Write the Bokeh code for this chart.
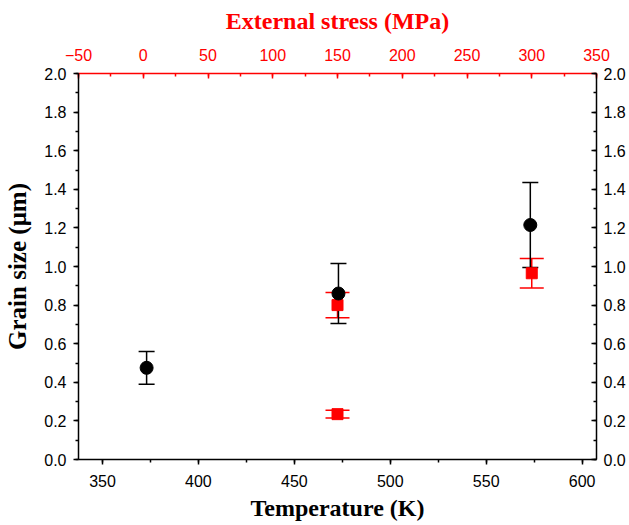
from bokeh.plotting import figure
from bokeh.models import (Range1d, LinearAxis, SingleIntervalTicker, Whisker, TeeHead,
                          ColumnDataSource, NumeralTickFormatter)
from bokeh.embed import file_html
from bokeh.resources import INLINE

# ---- data ----
temp_K = [373, 473, 573]
size_temp = [0.475, 0.86, 1.215]
err_temp = [0.085, 0.155, 0.22]

stress_MPa = [150, 150, 300]
size_stress = [0.80, 0.235, 0.965]
err_stress = [0.065, 0.02, 0.077]

x_label = "Temperature (K)"
top_label = "External stress (MPa)"
y_label = "Grain size (\u03bcm)"

RED = "#ff0000"
TICK_FONT = "Liberation Sans"
TITLE_FONT = "Liberation Serif"

src_t = ColumnDataSource(dict(x=temp_K, y=size_temp,
                              lo=[v - e for v, e in zip(size_temp, err_temp)],
                              hi=[v + e for v, e in zip(size_temp, err_temp)]))
src_s = ColumnDataSource(dict(x=stress_MPa, y=size_stress,
                              lo=[v - e for v, e in zip(size_stress, err_stress)],
                              hi=[v + e for v, e in zip(size_stress, err_stress)]))

p = figure(width=628, height=524, output_backend="svg", toolbar_location=None,
           x_range=Range1d(337.5, 607.5), y_range=Range1d(0, 2),
           min_border_left=78, min_border_right=32, min_border_top=73, min_border_bottom=65)
p.extra_x_ranges = {"stress": Range1d(-50, 350)}
p.grid.visible = False
p.outline_line_color = None
p.background_fill_color = "white"
p.border_fill_color = "white"

def style(ax, color, tick_in, tick_out, standoff):
    ax.axis_line_color = color
    ax.axis_line_width = 1.5
    ax.major_tick_line_color = color
    ax.minor_tick_line_color = color
    ax.major_tick_line_width = 1.5
    ax.minor_tick_line_width = 1.5
    ax.major_tick_in = tick_in
    ax.major_tick_out = tick_out
    ax.minor_tick_in = 3 if tick_in else 0
    ax.minor_tick_out = 3 if tick_out else 0
    ax.major_label_text_color = color
    ax.major_label_text_font = TICK_FONT
    ax.major_label_text_font_size = "16px"
    ax.major_label_standoff = standoff
    ax.axis_label_text_font = TITLE_FONT
    ax.axis_label_text_font_style = "bold"
    ax.axis_label_text_font_size = "24px"
    ax.axis_label_text_color = color

# bottom axis
xb = p.xaxis[0]
xb.ticker = SingleIntervalTicker(interval=50, num_minor_ticks=2)
xb.axis_label = x_label
style(xb, "black", 0, 5, 10)
xb.axis_label_standoff = 5

# left axis
yl = p.yaxis[0]
yl.ticker = SingleIntervalTicker(interval=0.2, num_minor_ticks=2)
yl.formatter = NumeralTickFormatter(format="0.0")
yl.axis_label = y_label
style(yl, "black", 0, 5, 7)
yl.axis_label_text_font_size = "25px"
yl.axis_label_standoff = 10

# right axis
yr = LinearAxis(ticker=SingleIntervalTicker(interval=0.2, num_minor_ticks=2),
                formatter=NumeralTickFormatter(format="0.0"))
style(yr, "black", 5, 0, 7)
p.add_layout(yr, "right")

# top axis (stress)
xt = LinearAxis(x_range_name="stress",
                ticker=SingleIntervalTicker(interval=50, num_minor_ticks=2),
                axis_label=top_label)
style(xt, RED, 5, 0, 13)
xt.axis_label_standoff = 12
p.add_layout(xt, "above")

# red series (stress axis)
p.add_layout(Whisker(source=src_s, base="x", upper="hi", lower="lo", dimension="height",
                     x_range_name="stress", line_color=RED, line_width=1.5,
                     upper_head=TeeHead(size=24, line_color=RED, line_width=1.5),
                     lower_head=TeeHead(size=24, line_color=RED, line_width=1.5)))
p.scatter("x", "y", source=src_s, x_range_name="stress", marker="square", size=11,
          fill_color=RED, line_color=RED)

# black series (temperature axis)
p.add_layout(Whisker(source=src_t, base="x", upper="hi", lower="lo", dimension="height",
                     line_color="black", line_width=1.5,
                     upper_head=TeeHead(size=16, line_color="black", line_width=1.5),
                     lower_head=TeeHead(size=16, line_color="black", line_width=1.5)))
p.scatter("x", "y", source=src_t, marker="circle", size=13,
          fill_color="black", line_color="black")

open("out.html", "w").write(file_html(p, INLINE))
